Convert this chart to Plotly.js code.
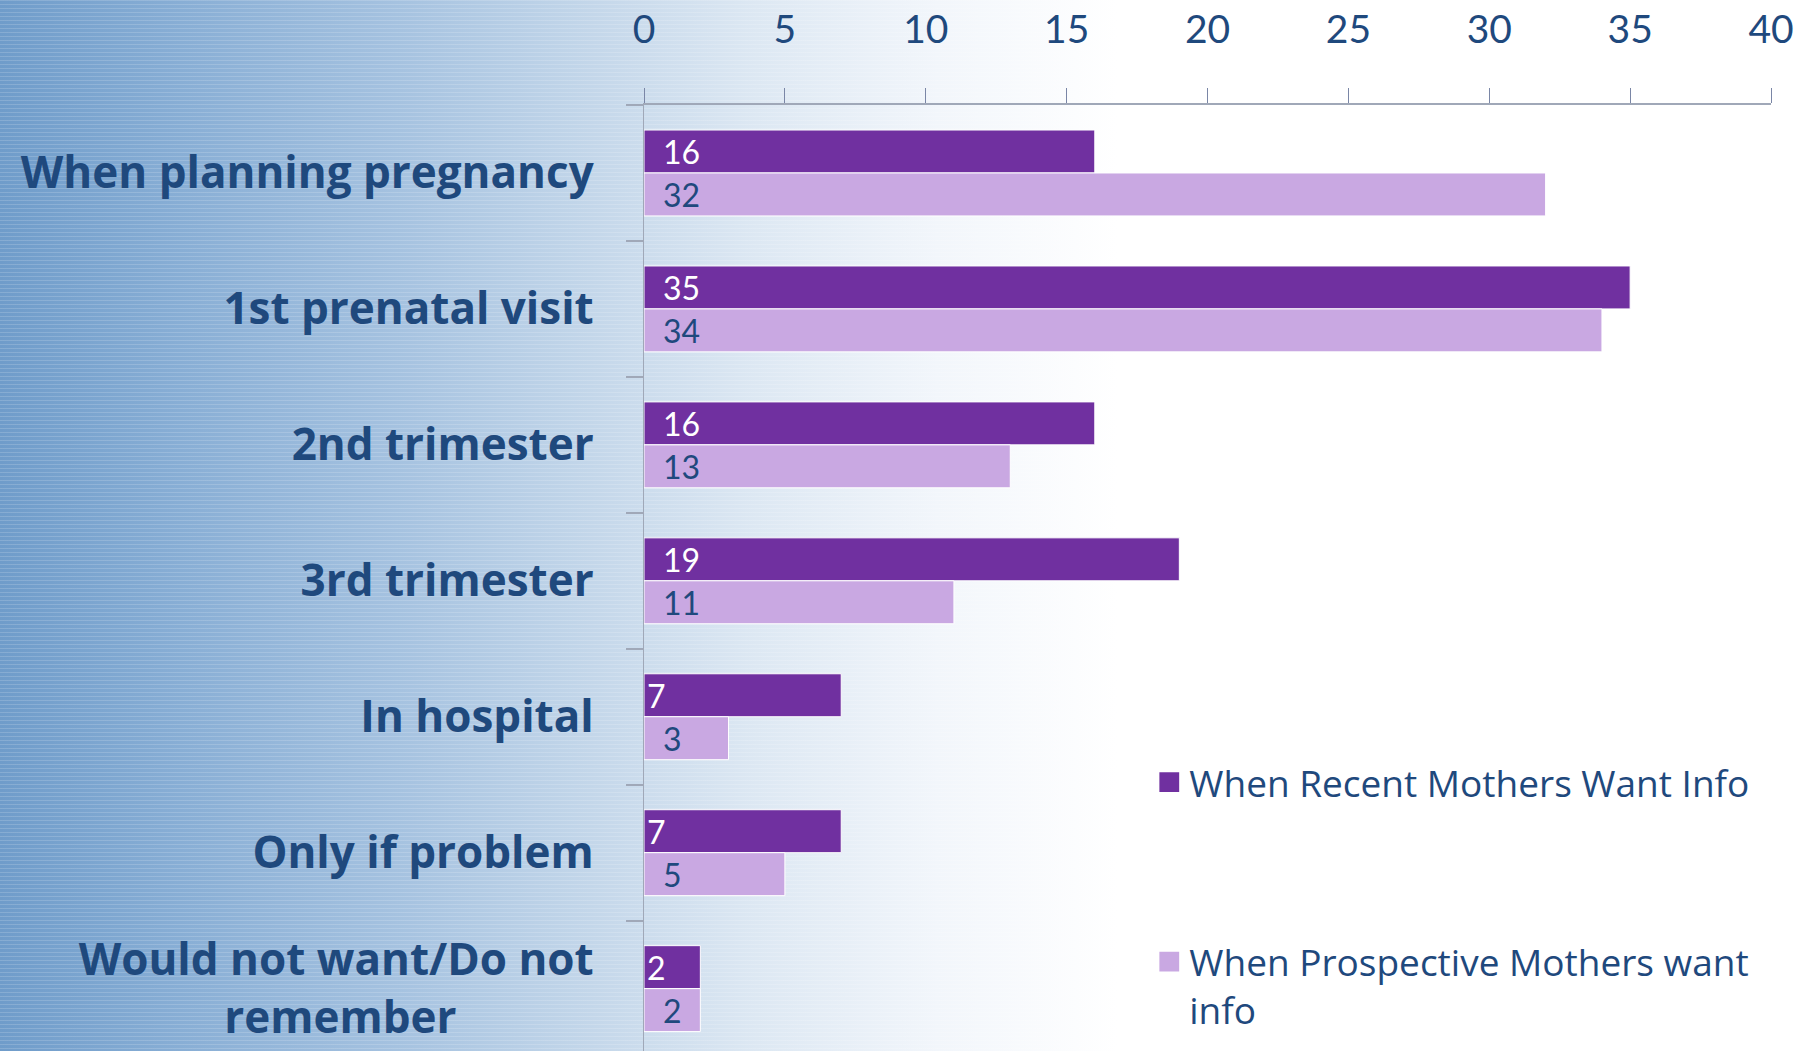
<!DOCTYPE html>
<html>
<head>
<meta charset="utf-8">
<script src="https://cdn.plot.ly/plotly-3.0.1.min.js"></script>
<style>
  html, body { margin: 0; padding: 0; }
  body {
    width: 1802px; height: 1051px; overflow: hidden;
    background:
      repeating-linear-gradient(to bottom, rgba(255,255,255,0.16) 0px, rgba(255,255,255,0.16) 1px, rgba(255,255,255,0) 1px, rgba(255,255,255,0) 4px),
      linear-gradient(to right, #6f9cca 0%, #88aed5 10%, #a5c2e0 22%, #c4d7ea 33%, #dde8f3 42%, #f2f6fb 52%, #ffffff 62%, #ffffff 100%);
  }
  #chart { width: 1802px; height: 1051px; }
  g.legendpoints path { transform: translate(20px, 0px) scale(1.8); }
</style>
</head>
<body>
<div id="chart"></div>
<script>
// ---- data ----
const categories = [
  "When planning pregnancy",
  "1st prenatal visit",
  "2nd trimester",
  "3rd trimester",
  "In hospital",
  "Only if problem",
  "Would not want/Do not remember"
];
const recentMothers = [16, 35, 16, 19, 7, 7, 2];
const prospectiveMothers = [32, 34, 13, 11, 3, 5, 2];
const seriesNames = ["When Recent Mothers Want Info", "When Prospective Mothers want<br>info"];
const xTicks = [0, 5, 10, 15, 20, 25, 30, 35, 40];

// ---- styling ----
const FONT = "Lato, 'Open Sans', sans-serif";
const LABEL_FONT = "'Open Sans', Lato, sans-serif";
const TEXT_BLUE = "#1f497d";
const DARK = "#7030a0";
const LIGHT = "#c9a8e2";
const AXIS = "#a0a8b8";
const TICK = "#7a86a6";

// Tick labels: centre the second line of the wrapped label by padding with no-break spaces
function measure(txt, size, weight) {
  const c = document.createElement("canvas").getContext("2d");
  c.font = weight + " " + size + "px 'Open Sans'";
  return c.measureText(txt).width;
}
const LABEL_SIZE = 44;
const tickText = categories.map(function (c) {
  if (c === "Would not want/Do not remember") {
    const l1 = "Would not want/Do not", l2 = "remember";
    const shift = (measure(l1, LABEL_SIZE, "bold") - measure(l2, LABEL_SIZE, "bold")) / 2;
    const n = Math.round(shift / measure("\u00a0", LABEL_SIZE, "bold"));
    return "<b>" + l1 + "</b><br><b>" + l2 + "\u00a0".repeat(n) + "</b>";
  }
  return "<b>" + c + "</b>";
});

const darkTemplates = recentMothers.map(v => v >= 10 ? "\u2002%{x}" : "%{x}");
const lightTemplates = prospectiveMothers.map(() => "\u2002%{x}");

const traces = [
  {
    type: "bar", orientation: "h",
    y: categories, x: recentMothers,
    name: seriesNames[0],
    marker: { color: DARK, line: { color: "#ffffff", width: 1 } },
    texttemplate: darkTemplates, textposition: "inside", insidetextanchor: "start",
    constraintext: "none", textangle: 0,
    insidetextfont: { family: FONT, size: 32, color: "#ffffff" },
    legend: "legend", hoverinfo: "skip"
  },
  {
    type: "bar", orientation: "h",
    y: categories, x: prospectiveMothers,
    name: seriesNames[1],
    marker: { color: LIGHT, line: { color: "#ffffff", width: 1 } },
    texttemplate: lightTemplates, textposition: "inside", insidetextanchor: "start",
    constraintext: "none", textangle: 0,
    insidetextfont: { family: FONT, size: 32, color: TEXT_BLUE },
    legend: "legend2", hoverinfo: "skip"
  }
];

const W = 1802, H = 1051;
const plotL = 643.5, plotR = 1771, plotT = 104.6;
const band = 136;
const yBottom = -0.5 + (H - plotT) / band;
const px = p => (p - plotL) / (plotR - plotL);
const py = p => (H - p) / (H - plotT);

const layout = {
  width: W, height: H,
  paper_bgcolor: "rgba(0,0,0,0)", plot_bgcolor: "rgba(0,0,0,0)",
  margin: { l: plotL, r: W - plotR, t: plotT, b: 0, pad: 0, autoexpand: false },
  barmode: "group", bargap: 0.368, bargroupgap: 0,
  font: { family: FONT, color: TEXT_BLUE },
  xaxis: {
    side: "top", range: [0, 40], tickvals: xTicks, ticktext: xTicks.map(String),
    showgrid: false, zeroline: false, showline: true, linecolor: AXIS, linewidth: 2,
    ticks: "outside", ticklen: 15, tickwidth: 1, tickcolor: TICK,
    ticklabelstandoff: 29,
    tickfont: { family: FONT, size: 39, color: TEXT_BLUE },
    fixedrange: true
  },
  yaxis: {
    type: "category", range: [yBottom, -0.5],
    tickvals: categories, ticktext: tickText,
    showgrid: false, zeroline: false, showline: true, linecolor: AXIS, linewidth: 1.5,
    ticks: "outside", tickson: "boundaries", ticklen: 17, tickwidth: 2, tickcolor: AXIS,
    ticklabelstandoff: 40,
    tickfont: { family: LABEL_FONT, size: LABEL_SIZE, color: TEXT_BLUE },
    fixedrange: true
  },
  showlegend: true,
  legend: {
    x: px(1149), xanchor: "left", y: py(782.5), yanchor: "middle",
    bgcolor: "rgba(0,0,0,0)", borderwidth: 0,
    font: { family: LABEL_FONT, size: 37, color: TEXT_BLUE }, itemclick: false, itemdoubleclick: false
  },
  legend2: {
    x: px(1149), xanchor: "left", y: py(986), yanchor: "middle", valign: "top",
    bgcolor: "rgba(0,0,0,0)", borderwidth: 0,
    font: { family: LABEL_FONT, size: 37, color: TEXT_BLUE }, itemclick: false, itemdoubleclick: false
  }
};

Plotly.newPlot("chart", traces, layout, { staticPlot: true, displayModeBar: false });
</script>
</body>
</html>
